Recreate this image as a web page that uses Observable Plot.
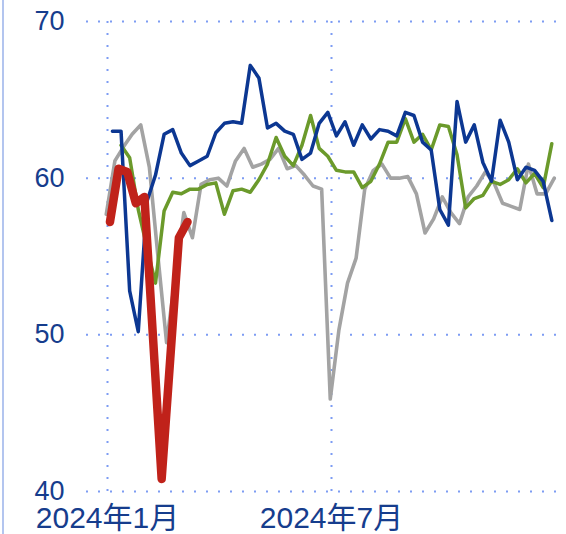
<!DOCTYPE html>
<html><head><meta charset="utf-8">
<script src="https://cdn.jsdelivr.net/npm/d3@7"></script>
<script src="https://cdn.jsdelivr.net/npm/@observablehq/plot@0.6"></script>
<style>
body{margin:0;background:#fff;}
#wrap{position:relative;width:566px;height:534px;overflow:hidden;}
#edge{position:absolute;left:2px;top:0;width:2px;height:534px;background:#b3c5ef;}
</style></head><body><div id="wrap"><div id="edge"></div><div id="chart"></div></div>
<script>
// Y ticks and X ticks
const yTicks = [40, 50, 60, 70];
const xTickDates = ["2024-01-01", "2024-07-01"];
const xTickLabels = ["2024年1月", "2024年7月"];

// Series (weekly values)
const grayStart = "2023-12-31";
const grayValues = [57.7, 61.1, 62.0, 62.8, 63.4, 60.7, 55.0, 49.5, 53.7, 57.8, 56.2, 59.6, 59.9, 60.0, 59.5, 61.1, 61.9, 60.7, 60.9, 61.2, 61.9, 60.6, 60.8, 60.2, 59.5, 59.3, 45.9, 50.3, 53.3, 54.9, 59.3, 60.5, 60.9, 60.0, 60.0, 60.1, 59.0, 56.5, 57.4, 58.8, 57.8, 57.1, 58.8, 59.5, 60.4, 59.7, 58.4, 58.2, 58.0, 60.9, 59.0, 59.0, 60.0];

const greenStart = "2024-01-12";
const greenValues = [62.1, 61.3, 58.0, 55.6, 53.3, 57.9, 59.1, 59.0, 59.3, 59.3, 59.6, 59.7, 57.7, 59.2, 59.3, 59.1, 59.9, 60.9, 62.6, 61.4, 60.8, 62.1, 64.0, 61.9, 61.4, 60.5, 60.4, 60.4, 59.4, 59.8, 60.9, 62.3, 62.3, 63.8, 62.3, 62.8, 61.8, 63.4, 63.3, 61.5, 58.1, 58.7, 58.9, 59.8, 59.6, 59.9, 60.6, 59.7, 60.3, 59.4, 62.2];

const blueStart = "2024-01-05";
const blueValues = [63.0, 63.0, 52.8, 50.2, 58.5, 60.2, 62.8, 63.1, 61.6, 60.8, 61.1, 61.4, 62.9, 63.5, 63.6, 63.5, 67.2, 66.4, 63.2, 63.5, 63.0, 62.8, 61.2, 61.6, 63.5, 64.2, 62.7, 63.6, 62.1, 63.4, 62.5, 63.1, 63.0, 62.7, 64.2, 64.0, 62.3, 61.8, 58.0, 57.0, 64.9, 62.3, 63.4, 61.0, 59.8, 63.7, 62.3, 59.9, 60.7, 60.5, 59.8, 57.3];

const redStart = "2024-01-03";
const redValues = [57.2, 60.6, 60.4, 58.4, 58.8, 49.8, 40.8, 48.5, 56.2, 57.2];

const colors = {gray: "#a3a3a3", green: "#6b9a2b", blue: "#0c3792", red: "#c0221a"};

function weekly(start, values) {
  const t0 = new Date(start + "T00:00:00Z");
  return values.map((v, i) => ({date: d3.utcDay.offset(t0, 7 * i), value: v}));
}

const gray = weekly(grayStart, grayValues);
const green = weekly(greenStart, greenValues);
const blue = weekly(blueStart, blueValues);
const red = weekly(redStart, redValues);
const xTicks = xTickDates.map(d => new Date(d + "T00:00:00Z"));

const gridStyle = {stroke: "#7d9cf3", strokeOpacity: 1, strokeWidth: 2, strokeDasharray: "2,10"};
const textColor = "#163d8d";

const chart = Plot.plot({
  width: 566,
  height: 534,
  marginTop: 21,
  marginBottom: 43,
  marginLeft: 86,
  marginRight: 10,
  style: {fontFamily: "'Liberation Sans', 'Noto Sans CJK SC', sans-serif", background: "transparent"},
  x: {type: "utc", domain: xTicks, range: [107, 331]},
  y: {domain: [40, 70]},
  marks: [
    Plot.gridY(yTicks, gridStyle),
    Plot.gridX(xTicks, gridStyle),
    Plot.axisY(yTicks, {tickSize: 0, tickPadding: 22, fontSize: 27, fill: textColor, label: null}),
    Plot.axisX(xTicks, {tickSize: 0, tickPadding: 15, fontSize: 30, fill: textColor, label: null,
      tickFormat: (d, i) => xTickLabels[i]}),
    Plot.lineY(gray, {x: "date", y: "value", stroke: colors.gray, strokeWidth: 3.6}),
    Plot.lineY(green, {x: "date", y: "value", stroke: colors.green, strokeWidth: 3.5}),
    Plot.lineY(blue, {x: "date", y: "value", stroke: colors.blue, strokeWidth: 3.5}),
    Plot.lineY(red, {x: "date", y: "value", stroke: colors.red, strokeWidth: 8.5, strokeLinejoin: "round", strokeLinecap: "round"})
  ]
});
document.getElementById("chart").appendChild(chart);
</script>
</body></html>
